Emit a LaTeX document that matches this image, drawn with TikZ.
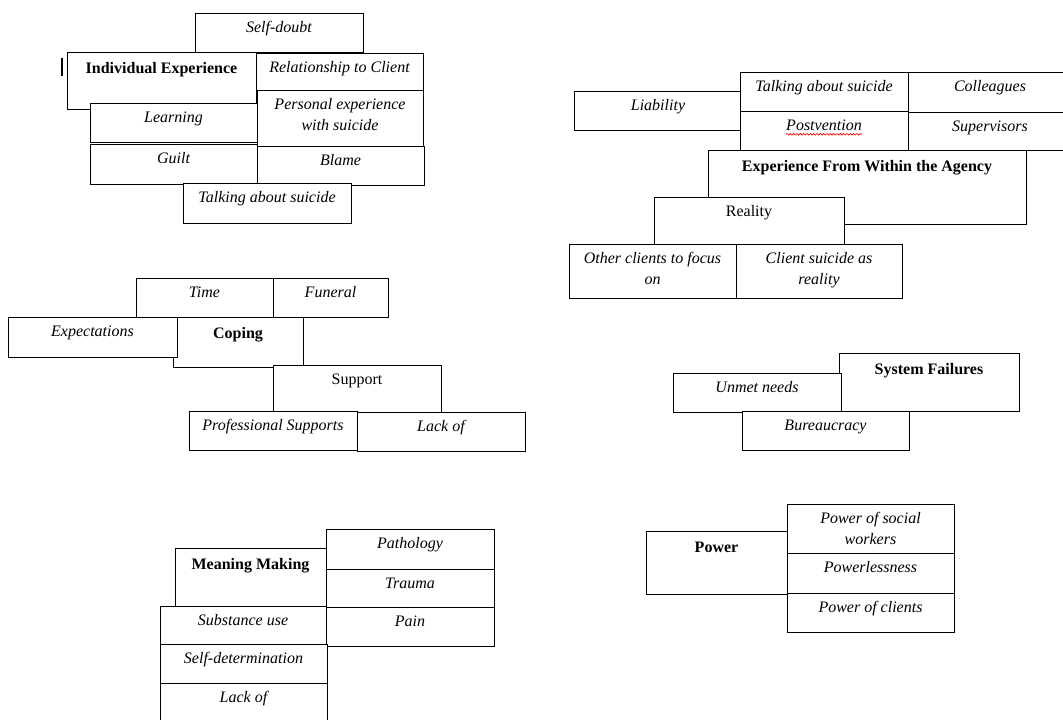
\documentclass[tikz,border=0pt]{standalone}
\usepackage{fontspec}
\setmainfont{Liberation Serif}
\usetikzlibrary{fit,calc,decorations.pathmorphing}
\tikzset{
  box/.style={draw=black, fill=white, line width=0.7pt, inner sep=0pt},
  lbl/.style={anchor=north, inner sep=0pt, align=center},
  itxt/.style={font=\fontsize{12pt}{15.75pt}\selectfont\itshape},
  bftxt/.style={font=\fontsize{12pt}{15.75pt}\selectfont\bfseries, yshift=-1.5pt},
  rmtxt/.style={font=\fontsize{12pt}{15.75pt}\selectfont},
}
% name, x1, y1, x2, y2, text style, text
\newcommand\bx[7]{%
  \path (#2,#3) coordinate (#1-nw) (#4,#5) coordinate (#1-se);
  \node[box, fit=(#1-nw)(#1-se)] (#1) {};
  \node[lbl, #6] (#1-t) at ($(#1.north)+(0,5.3)$) {\strut #7};
}
\begin{document}
\begin{tikzpicture}[x=0.75pt, y=-0.75pt]
\useasboundingbox (0,0) rectangle (1063,719);
\clip (0,0) rectangle (1063,719);
% Individual Experience
\bx{sd}{195}{13}{363}{52}{itxt}{Self-doubt}
\bx{ie}{67}{52}{256}{109}{bftxt}{Individual Experience}
\bx{rc}{256}{53}{423}{90}{itxt}{Relationship to Client}
\bx{pe}{257}{90}{423}{146}{itxt}{Personal experience\\with suicide}
\bx{le}{90}{103}{257}{142}{itxt}{Learning}
\bx{gu}{90}{144}{257}{184}{itxt}{Guilt}
\bx{bl}{257}{146}{424}{185}{itxt}{Blame}
\bx{ts}{183}{183}{351}{223}{itxt}{Talking about suicide}
\coordinate (cur-a) at (62,58);
\coordinate (cur-b) at (62,76);
\draw[line width=1pt] (cur-a) -- (cur-b);
% Experience From Within the Agency
\bx{li}{574}{91}{742}{130}{itxt}{Liability}
\bx{ta}{740}{72}{908}{111}{itxt}{Talking about suicide}
\bx{co}{908}{72}{1072}{112}{itxt}{Colleagues}
\bx{po}{740}{111}{908}{150}{itxt}{Postvention}
\bx{su}{908}{112}{1072}{150}{itxt}{Supervisors}
\draw[red, line width=0.5pt, decorate, decoration={snake, amplitude=0.6pt, segment length=2.5pt}]
  ($(po-t.base west)+(0,3.5)$) -- ($(po-t.base east)+(0,3.5)$);
\bx{ex}{708}{150}{1026}{224}{bftxt}{Experience From Within the Agency}
\bx{re}{654}{197}{844}{244}{rmtxt}{Reality}
\bx{oc}{569}{244}{736}{298}{itxt}{Other clients to focus\\on}
\bx{cs}{736}{244}{902}{298}{itxt}{Client suicide as\\reality}
% Coping
\bx{ti}{136}{278}{273}{317}{itxt}{Time}
\bx{fu}{273}{278}{388}{317}{itxt}{Funeral}
\bx{cp}{173}{317}{303}{367}{bftxt}{Coping}
\bx{xp}{8}{317}{177}{357}{itxt}{Expectations}
\bx{sp}{273}{365}{441}{412}{rmtxt}{Support}
\bx{ps}{189}{411}{357}{450}{itxt}{Professional Supports}
\bx{lo}{357}{412}{525}{451}{itxt}{Lack of}
% System Failures
\bx{sf}{839}{353}{1019}{411}{bftxt}{System Failures}
\bx{un}{673}{373}{841}{412}{itxt}{Unmet needs}
\bx{bu}{742}{411}{909}{450}{itxt}{Bureaucracy}
% Meaning Making
\bx{mm}{175}{548}{326}{606}{bftxt}{Meaning Making}
\bx{pa}{326}{529}{494}{569}{itxt}{Pathology}
\bx{tr}{326}{569}{494}{607}{itxt}{Trauma}
\bx{pn}{326}{607}{494}{646}{itxt}{Pain}
\bx{sb}{160}{606}{326}{644}{itxt}{Substance use}
\bx{dt}{160}{644}{327}{683}{itxt}{Self-determination}
\bx{lk}{160}{683}{327}{725}{itxt}{Lack of}
% Power
\bx{pw}{646}{531}{787}{594}{bftxt}{Power}
\bx{pwa}{787}{504}{954}{553}{itxt}{Power of social\\workers}
\bx{pwb}{787}{553}{954}{593}{itxt}{Powerlessness}
\bx{pwc}{787}{593}{954}{632}{itxt}{Power of clients}
\end{tikzpicture}
\end{document}
